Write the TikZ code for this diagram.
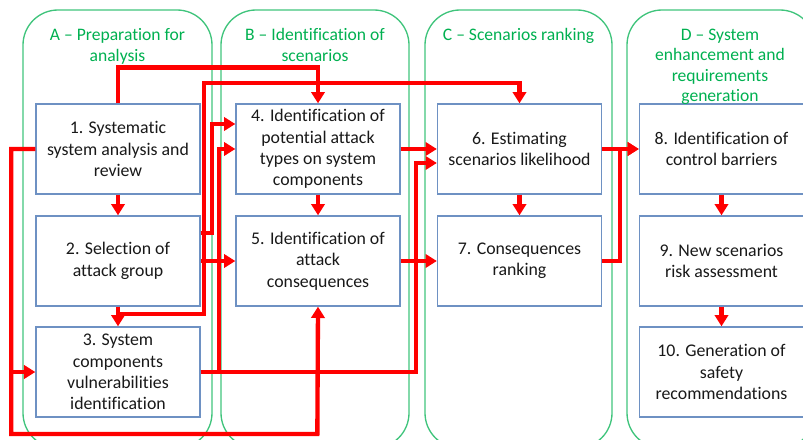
\documentclass[tikz,border=0pt]{standalone}
\usepackage{fontspec}
\setmainfont[Ligatures=NoCommon]{Carlito}
\usetikzlibrary{arrows.meta}
\usetikzlibrary{calc}
\definecolor{lanegreen}{RGB}{0,176,80}
\definecolor{boxblue}{RGB}{110,145,195}
\tikzstyle{lane}=[draw=lanegreen!75, line width=0.4mm, rounded corners=10.5mm]
\tikzstyle{lanetitle}=[text=lanegreen, align=center, anchor=north, inner sep=0pt, font=\fontsize{15}{17.6}\selectfont]
\tikzstyle{stepbox}=[rectangle, draw=boxblue, line width=0.4mm, fill=white, minimum width=49.2mm, minimum height=27mm, inner sep=0pt, align=center, text=black!90, font=\fontsize{15.2}{18.2}\selectfont]
\tikzstyle{flow}=[draw=red, line width=1.3mm, -{Triangle[width=4mm,length=3.4mm]}]

\begin{document}
\begin{tikzpicture}[x=0.3mm, y=-0.3mm]
    \useasboundingbox (0,0) rectangle (803,439);
    \clip (0,0) rectangle (803,439);

    % swim lanes
    \foreach \xa/\xb in {23/212, 221/409, 425/612, 627/815}
        \draw[lane] (\xa,10) rectangle (\xb,448);

    % process steps
    \foreach \pos/\name/\txt in {{(118,149)/b1/{1. Systematic\\system analysis and\\review}},
        {(118,261)/b2/{2. Selection of\\attack group}},
        {(118,372)/b3/{3. System\\components\\vulnerabilities\\identification}},
        {(318,149)/b4/{4. Identification of\\potential attack\\types on system\\components}},
        {(318,261)/b5/{5. Identification of\\attack\\consequences}},
        {(519.5,149)/b6/{6. Estimating\\scenarios likelihood}},
        {(519.5,261)/b7/{7. Consequences\\ranking}},
        {(721.5,149)/b8/{8. Identification of\\control barriers}},
        {(721.5,261)/b9/{9. New scenarios\\risk assessment}},
        {(721.5,372)/b10/{10. Generation of\\safety\\recommendations}}}
        \node[stepbox] (\name) at \pos {\txt};

    % straight links
    \foreach \source/\dest in {b1/b2, b2/b3, b4/b5, b6/b7, b8/b9, b9/b10, b2/b5, b4/b6, b5/b7, b6/b8}
        \path[flow] (\source) -- (\dest);

    % routed links
    \draw[flow] (b1.north) -- ++(0,-36) -| (b4.north);
    \draw[flow] (b2.south) -- ++(0,7) -| ++(86,-231) -| (b6.north);
    \draw[flow] ($(b2.east)+(0,-28)$) -- ++(11,0) |- ($(b4.west)+(0,-25)$);
    \draw[flow] (b3.east) -- ++(18,0) |- (b4.west);
    \draw[flow] (b3.east) -- ++(215,0) |- ($(b6.west)+(0,14)$);
    \draw[flow] (b7.east) -- ++(18,0) |- (b8.west);
    \draw[flow] (b1.west) -- ++(-24,0) |- (b3.west);
    \draw[flow] (b1.west) -- ++(-24,0) |- ++(306,285) -- (b5.south);

    % lane titles
    \node[lanetitle] (ta) at (117.5,28.5) {A – Preparation for\\analysis};
    \node[lanetitle] (tb) at (315,28.5) {B – Identification of\\scenarios};
    \node[lanetitle] (tc) at (518.5,28.5) {C – Scenarios ranking};
    \node[lanetitle] (td) at (720,28.5) {D – System\\enhancement and\\requirements\\generation};
\end{tikzpicture}
\end{document}
